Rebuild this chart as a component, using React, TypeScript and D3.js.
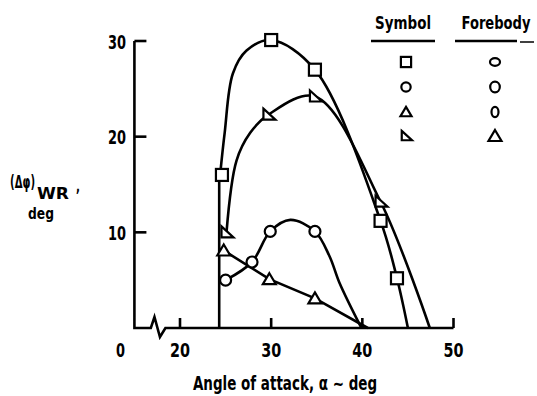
import { useLayoutEffect, useRef, useState } from 'react';
import * as d3 from 'd3';

// tick values
const xTicks = [20, 30, 40, 50];
const yTicks = [10, 20, 30];

// square symbol / flat ellipse forebody
const sqAlpha = [24.6, 30, 34.8, 42, 43.8];
const sqValue = [16, 30.1, 27, 11.2, 5.2];
const sqCurveAlpha = [24.4, 24.9, 25.8, 27.3, 30, 34.8, 42, 43.8, 45];
const sqCurveValue = [16, 20.4, 26.6, 29, 30.1, 27, 11.2, 5.2, 0];

// right triangle symbol / triangle forebody
const rtAlpha = [25.1, 29.7, 34.8, 42];
const rtValue = [10, 22.3, 24.2, 13.2];
const rtCurveAlpha = [25.1, 26.2, 27.7, 29.7, 34.8, 42, 47.4];
const rtCurveValue = [10, 17.5, 20.4, 22.3, 24.2, 13.2, 0];

// circle symbol / round forebody
const ciAlpha = [25, 27.9, 29.9, 34.8];
const ciValue = [5, 6.9, 10.1, 10.1];
const ciCurveAlpha = [25, 27.9, 29.9, 32.1, 34.8, 36.4, 37.5, 39.9];
const ciCurveValue = [5, 6.9, 10.1, 11.3, 10.1, 7.5, 4.7, 0];

// triangle symbol / tall ellipse forebody
const trAlpha = [24.8, 29.8, 34.8];
const trValue = [8.1, 5.1, 3.1];
const trLineAlpha = [24.3, 24.8, 29.8, 34.8, 40.6];
const trLineValue = [8.3, 8.1, 5.1, 3.1, 0];

// vertical line at the onset angle
const onsetAlpha = 24.3;
const onsetTop = 16;

const legendSymbols = ['square', 'circle', 'triangle', 'right'];
const legendForebody = ['flat', 'round', 'tall', 'triangle'];

const FONT = '"DejaVu Sans", sans-serif';

function marker(kind: string, cx: number, cy: number, key: string | number, s = 1) {
  const common = { fill: 'white', stroke: 'black', strokeWidth: 2.2 };
  switch (kind) {
    case 'square':
      return <rect key={key} x={cx - 6 * s} y={cy - 6 * s} width={12 * s} height={12 * s} {...common} />;
    case 'circle':
      return <circle key={key} cx={cx} cy={cy} r={5.5 * s} {...common} />;
    case 'triangle':
      return (
        <path key={key} d={`M${cx},${cy - 6 * s}L${cx + 6.5 * s},${cy + 5 * s}L${cx - 6.5 * s},${cy + 5 * s}Z`} {...common} />
      );
    case 'right':
      return (
        <path key={key} d={`M${cx - 5 * s},${cy - 6 * s}L${cx + 7 * s},${cy + 5 * s}L${cx - 5 * s},${cy + 5 * s}Z`} {...common} />
      );
    case 'flat':
      return <ellipse key={key} cx={cx} cy={cy} rx={5} ry={3.8} {...common} />;
    case 'round':
      return <ellipse key={key} cx={cx} cy={cy} rx={4.8} ry={5.3} {...common} />;
    case 'tall':
      return <ellipse key={key} cx={cx} cy={cy} rx={3.5} ry={5.2} {...common} />;
    default:
      return null;
  }
}

// squeezes a bold label horizontally to the width measured on the scan
function Txt(props: { x: number; y: number; w: number; size: number; anchor?: string; children: string }) {
  const ref = useRef<SVGTextElement>(null);
  const [sx, setSx] = useState(0.75);
  useLayoutEffect(() => {
    const n = ref.current ? ref.current.getComputedTextLength() : 0;
    if (n > 0) setSx(props.w / n);
  }, [props.w, props.children, props.size]);
  return (
    <text
      ref={ref}
      transform={`translate(${props.x},${props.y}) scale(${sx},1)`}
      fontSize={props.size}
      textAnchor={props.anchor || 'start'}
    >
      {props.children}
    </text>
  );
}

export default function App() {
  const width = 537;
  const height = 396;

  const x = d3.scaleLinear().domain([20, 50]).range([180, 453.5]);
  const y = d3.scaleLinear().domain([0, 30]).range([328, 41]);

  const smooth = d3
    .line<[number, number]>()
    .x((d) => x(d[0]))
    .y((d) => y(d[1]))
    .curve(d3.curveCatmullRom.alpha(0.5));
  const straight = d3
    .line<[number, number]>()
    .x((d) => x(d[0]))
    .y((d) => y(d[1]));

  const zip = (a: number[], b: number[]) => a.map((v, i) => [v, b[i]] as [number, number]);

  const x0 = x(15);
  const y0 = y(0);
  const axisPath =
    `M${x0},${y(30)}L${x0},${y0}L${x(16.8)},${y0}L${x(17.2)},${y0 - 11}` +
    `L${x(17.8)},${y0 + 9}L${x(18.4)},${y0}L${x(50)},${y0}`;

  const lineStyle = { fill: 'none', stroke: 'black', strokeWidth: 2.6 };

  const legendRows = [62, 87, 112, 136];

  return (
    <svg
      width={width}
      height={height}
      style={{ position: 'absolute', left: 0, top: 0, background: 'white' }}
      fontFamily={FONT}
      fontWeight="bold"
    >
      {/* axes */}
      <path d={axisPath} {...lineStyle} />
      {yTicks.map((t) => (
        <g key={'yt' + t}>
          <line x1={x0} x2={x0 + 12} y1={y(t)} y2={y(t)} stroke="black" strokeWidth={2.6} />
          <Txt x={126} y={y(t) + 7.5} w={18} size={20} anchor="end">
            {String(t)}
          </Txt>
        </g>
      ))}
      {xTicks.map((t) => (
        <g key={'xt' + t}>
          <line x1={x(t)} x2={x(t)} y1={y0} y2={y0 - 10} stroke="black" strokeWidth={2.6} />
          <Txt x={x(t)} y={357} w={20} size={20} anchor="middle">
            {String(t)}
          </Txt>
        </g>
      ))}
      <Txt x={x0 - 14} y={357} w={9} size={20} anchor="middle">
        0
      </Txt>

      {/* axis titles */}
      <Txt x={285} y={390} w={184} size={20} anchor="middle">
        Angle of attack, α ~ deg
      </Txt>
      <Txt x={10} y={188} w={25} size={18}>
        (Δφ)
      </Txt>
      <Txt x={37} y={199} w={32} size={16}>
        WR
      </Txt>
      <Txt x={76} y={192} w={4} size={15}>
        ,
      </Txt>
      <Txt x={28} y={219} w={26} size={16}>
        deg
      </Txt>

      {/* curves */}
      <line x1={x(onsetAlpha)} x2={x(onsetAlpha)} y1={y0} y2={y(onsetTop)} {...lineStyle} />
      <path d={smooth(zip(sqCurveAlpha, sqCurveValue)) || ''} {...lineStyle} />
      <path d={smooth(zip(rtCurveAlpha, rtCurveValue)) || ''} {...lineStyle} />
      <path d={smooth(zip(ciCurveAlpha, ciCurveValue)) || ''} {...lineStyle} />
      <path d={straight(zip(trLineAlpha, trLineValue)) || ''} {...lineStyle} />

      {/* markers */}
      {sqAlpha.map((a, i) => marker('square', x(a), y(sqValue[i]), 'sq' + i))}
      {rtAlpha.map((a, i) => marker('right', x(a), y(rtValue[i]), 'rt' + i))}
      {ciAlpha.map((a, i) => marker('circle', x(a), y(ciValue[i]), 'ci' + i))}
      {trAlpha.map((a, i) => marker('triangle', x(a), y(trValue[i]), 'tr' + i))}

      {/* legend */}
      <Txt x={403} y={29} w={56} size={17} anchor="middle">
        Symbol
      </Txt>
      <line x1={371} x2={435} y1={41} y2={41} stroke="black" strokeWidth={2.6} />
      <Txt x={496} y={29} w={69} size={17} anchor="middle">
        Forebody
      </Txt>
      <line x1={455} x2={517} y1={41} y2={41} stroke="black" strokeWidth={2.6} />
      <line x1={520} x2={534} y1={42} y2={42} stroke="black" strokeWidth={1.5} />
      {legendSymbols.map((s, i) => marker(s, 406, legendRows[i], 'ls' + i, 0.85))}
      {legendForebody.map((s, i) => marker(s, 495, legendRows[i], 'lf' + i))}
    </svg>
  );
}
